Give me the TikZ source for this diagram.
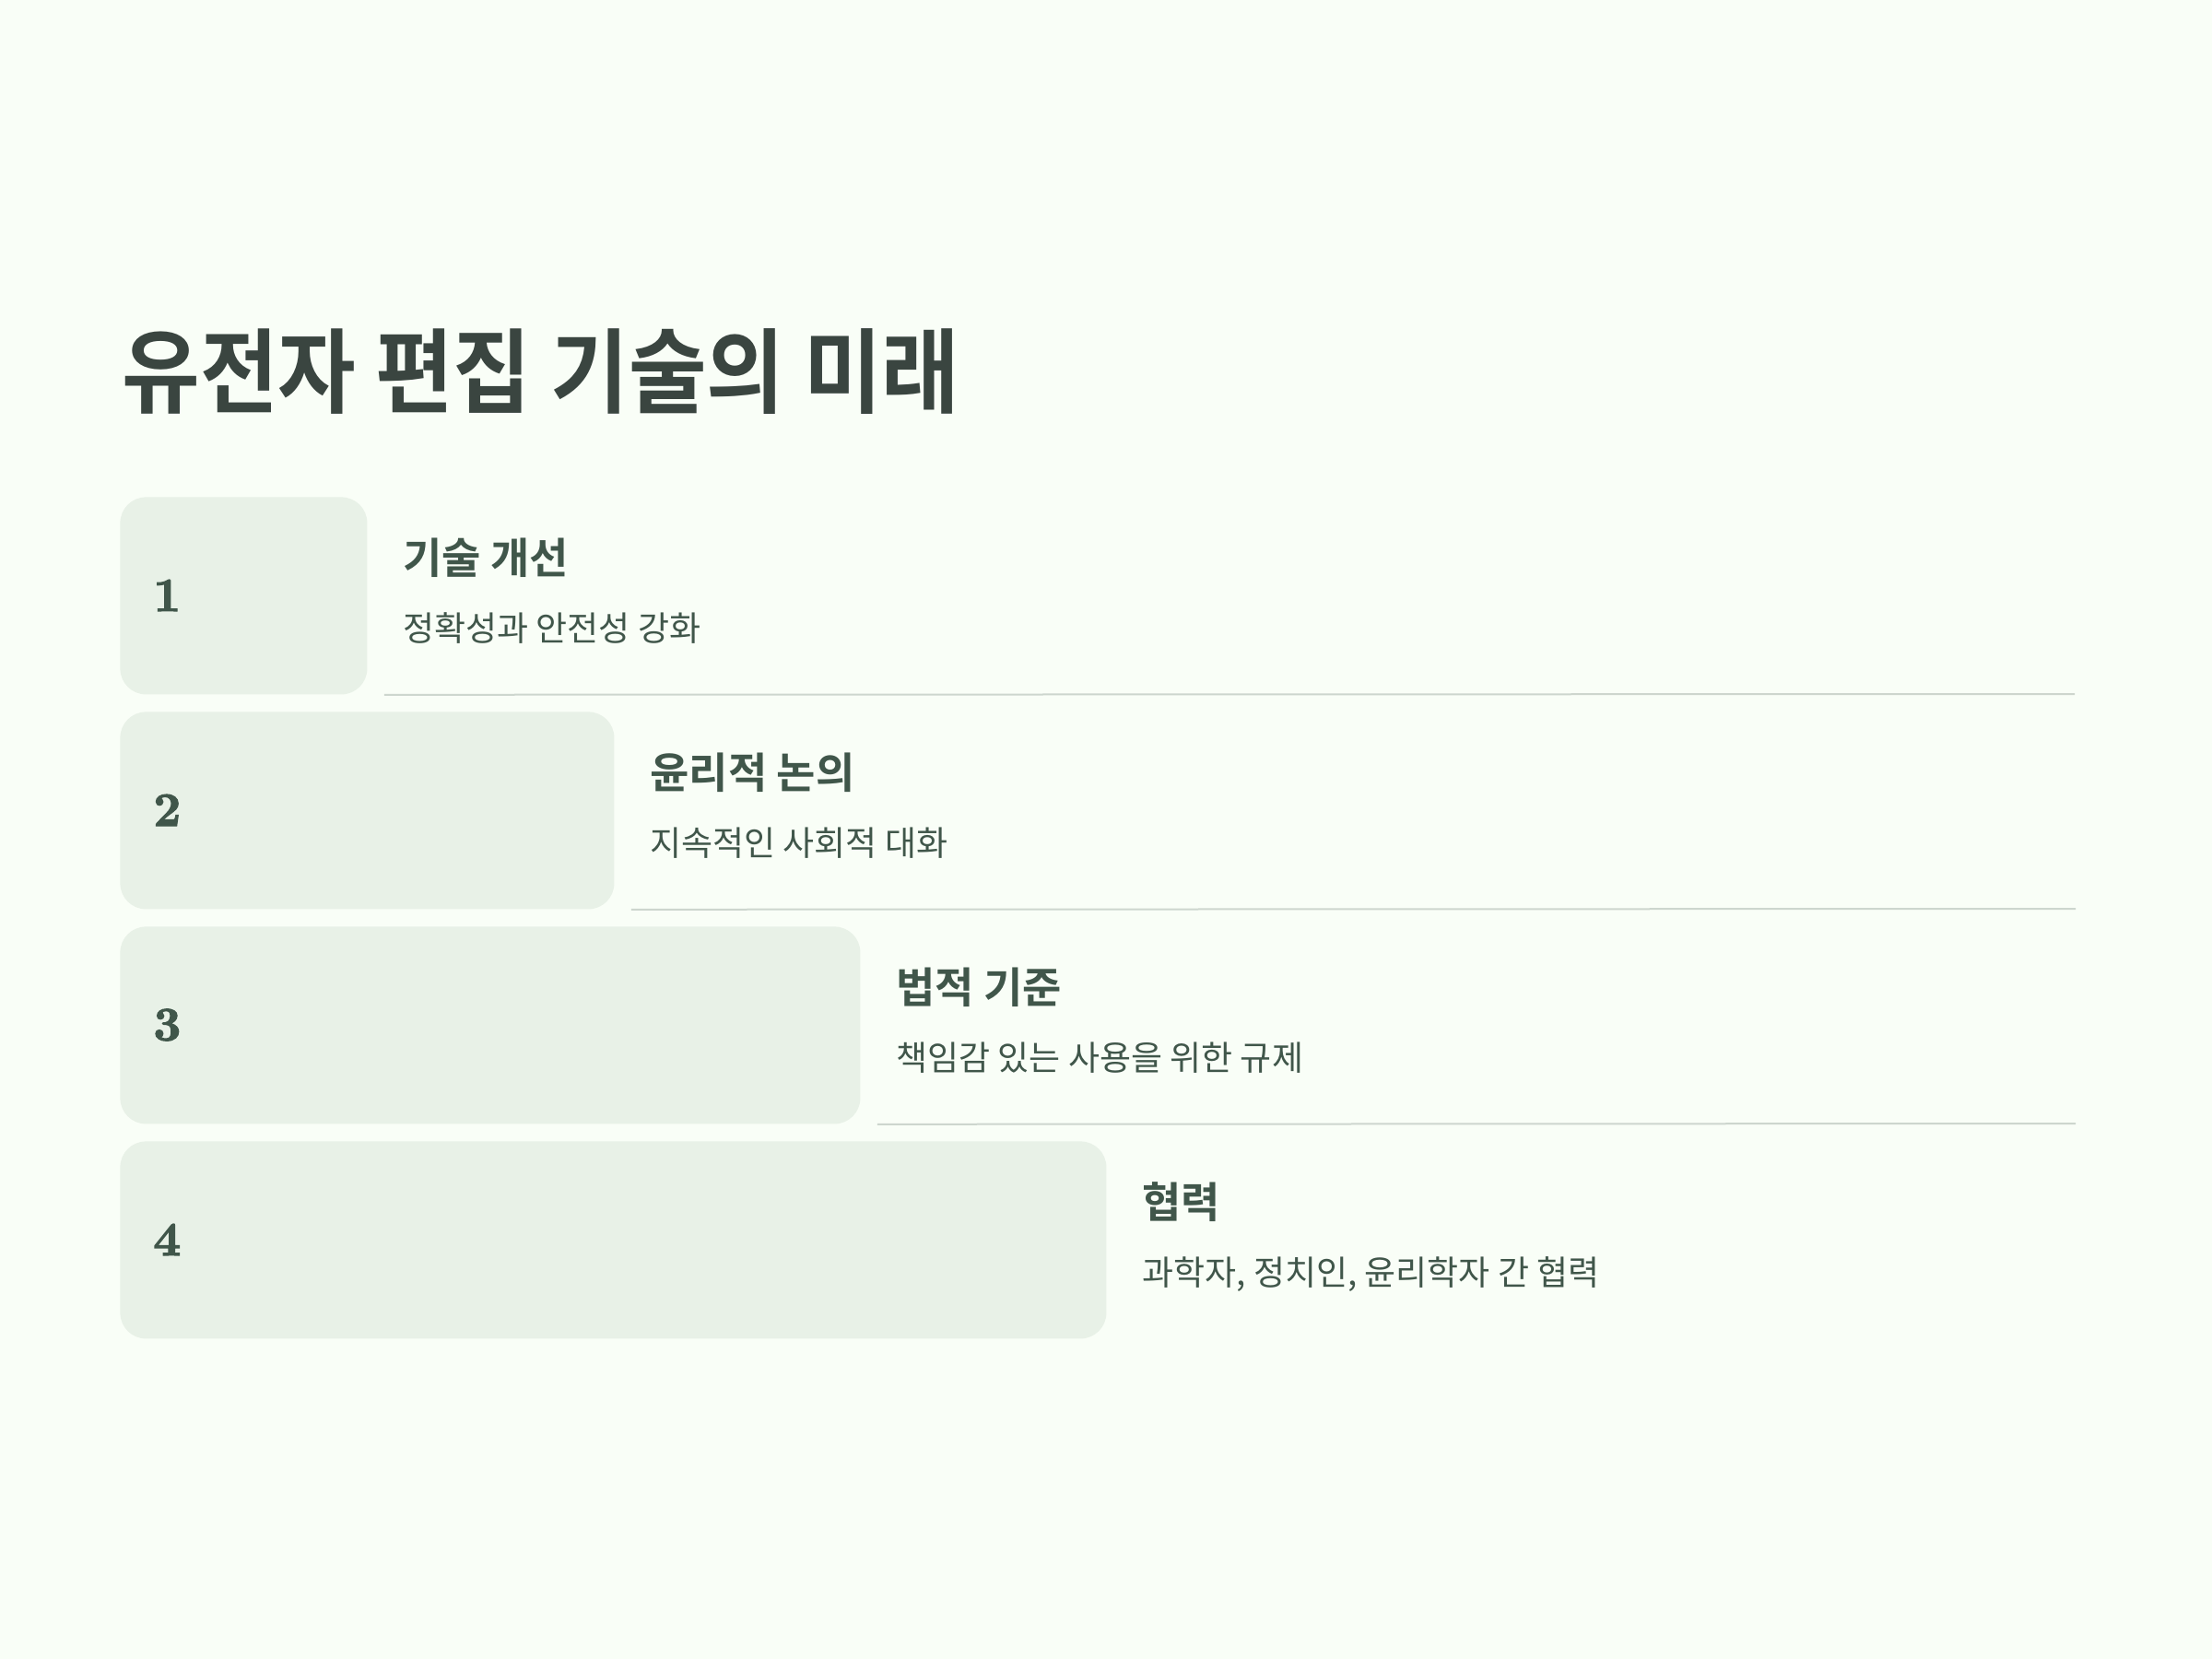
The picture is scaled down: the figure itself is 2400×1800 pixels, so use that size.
\documentclass[tikz,border=0pt]{standalone}
\usepackage{fontspec}
\newfontfamily\titlefont[FakeStretch=0.92]{Noto Sans CJK KR Bold}
\newfontfamily\headfont{Noto Sans CJK KR Bold}
\newfontfamily\bodyfont{Noto Sans CJK KR}
\newfontfamily\numfont[FakeBold=2.2]{lmroman10-bold.otf}
\definecolor{bgc}{HTML}{F9FEF7}
\definecolor{boxc}{HTML}{E8F1E7}
\definecolor{linec}{HTML}{CDD6CE}
\definecolor{titlec}{HTML}{3A4540}
\definecolor{textc}{HTML}{40564A}
\tikzset{
  stepbox/.style={fill=boxc, rounded corners=14pt, inner sep=0pt, anchor=north west, minimum height=107pt},
  numtxt/.style={inner sep=0pt, anchor=west, text=textc, font=\numfont\fontsize{26pt}{30pt}\selectfont},
  headtxt/.style={inner sep=0pt, anchor=base west, text=textc, font=\headfont\fontsize{23pt}{26pt}\selectfont},
  bodytxt/.style={inner sep=0pt, anchor=base west, text=textc, font=\bodyfont\fontsize{18.5pt}{22pt}\selectfont},
  sepline/.style={draw=linec, line width=1pt}
}
\begin{document}
\begin{tikzpicture}[x=0.5pt,y=-0.5pt]
\fill[bgc] (0,0) rectangle (2400,1800);
\useasboundingbox (0,0) rectangle (2400,1800);

\node[inner sep=0pt, anchor=base west, text=titlec, font=\titlefont\fontsize{50pt}{56pt}\selectfont] (title) at (132,440) {유전자 편집 기술의 미래};

% boxes
\node[stepbox, minimum width=134pt] (b1) at (130,539) {};
\node[stepbox, minimum width=268pt] (b2) at (130,772) {};
\node[stepbox, minimum width=401.5pt] (b3) at (130,1005) {};
\node[stepbox, minimum width=535pt] (b4) at (130,1238) {};

% numbers
\node[numtxt] (n1) at (166,646) {1};
\node[numtxt] (n2) at (166,879) {2};
\node[numtxt] (n3) at (166,1112) {3};
\node[numtxt] (n4) at (166,1345) {4};

% headings and descriptions
\node[headtxt] (h1) at (437,622) {기술 개선};
\node[bodytxt] (d1) at (437,695) {정확성과 안전성 강화};
\node[headtxt] (h2) at (705,855) {윤리적 논의};
\node[bodytxt] (d2) at (705,928) {지속적인 사회적 대화};
\node[headtxt] (h3) at (972,1088) {법적 기준};
\node[bodytxt] (d3) at (972,1161) {책임감 있는 사용을 위한 규제};
\node[headtxt] (h4) at (1239,1321) {협력};
\node[bodytxt] (d4) at (1239,1394) {과학자, 정치인, 윤리학자 간 협력};

% separator lines
\coordinate (e1) at (2251,753);
\coordinate (e2) at (2252,986);
\coordinate (e3) at (2252,1219);
\draw[sepline] ([xshift=9pt]b1.south east) -- (e1);
\draw[sepline] ([xshift=9pt]b2.south east) -- (e2);
\draw[sepline] ([xshift=9pt]b3.south east) -- (e3);
\end{tikzpicture}
\end{document}
